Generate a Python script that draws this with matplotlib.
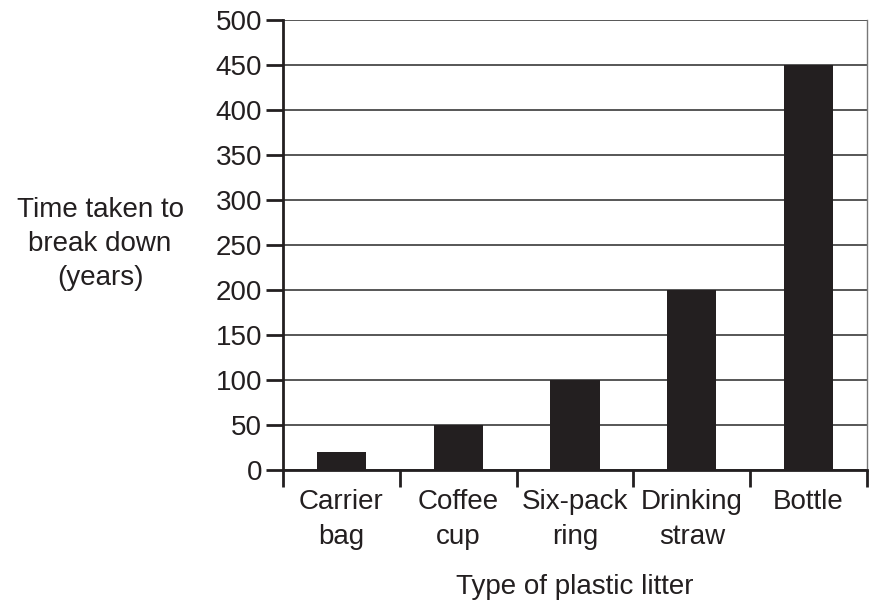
import matplotlib.pyplot as plt
import numpy as np

plt.rcParams['font.family'] = ['Liberation Sans', 'DejaVu Sans']

categories = ["Carrier\nbag", "Coffee\ncup", "Six-pack\nring", "Drinking\nstraw", "Bottle"]
years = [20, 50, 100, 200, 450]
ink = "#231f20"
fs = 20

fig = plt.figure(figsize=(8.72, 6.05), dpi=100)
ax = fig.add_axes([283 / 872, 135 / 605, 584 / 872, 450 / 605])

x = np.arange(len(categories))
ax.bar(x, years, width=0.42, color=ink, zorder=3)

ax.set_xlim(-0.5, len(categories) - 0.5)
ax.set_ylim(0, 500)
ax.set_yticks(np.arange(0, 501, 50))
ax.yaxis.grid(True, color="#3a3a3a", linewidth=1.2, zorder=1)

# boundary ticks on major, labels centred on minor
ax.set_xticks(np.arange(-0.5, len(categories), 1))
ax.set_xticklabels([])
ax.set_xticks(x, minor=True)
ax.set_xticklabels(categories, minor=True, fontsize=fs, color=ink, linespacing=1.45)
ax.tick_params(axis="x", which="minor", length=0, pad=14)
ax.tick_params(axis="x", which="major", length=12, width=2, color=ink, direction="out")
ax.tick_params(axis="y", length=12, width=2, color=ink, labelsize=fs, labelcolor=ink, pad=3)

for s in ["left", "bottom"]:
    ax.spines[s].set_linewidth(2)
    ax.spines[s].set_color(ink)
ax.spines["top"].set_visible(False)
ax.spines["right"].set_color("#777777")
ax.spines["right"].set_linewidth(1)

fig.text(100 / 872, 1 - 244 / 605, "Time taken to\nbreak down\n(years)", ha="center", va="center",
         fontsize=fs, color=ink, linespacing=1.38)
fig.text(575 / 872, 1 - 587 / 605, "Type of plastic litter", ha="center", va="center",
         fontsize=fs, color=ink)

fig.savefig("out.png", dpi=100)
